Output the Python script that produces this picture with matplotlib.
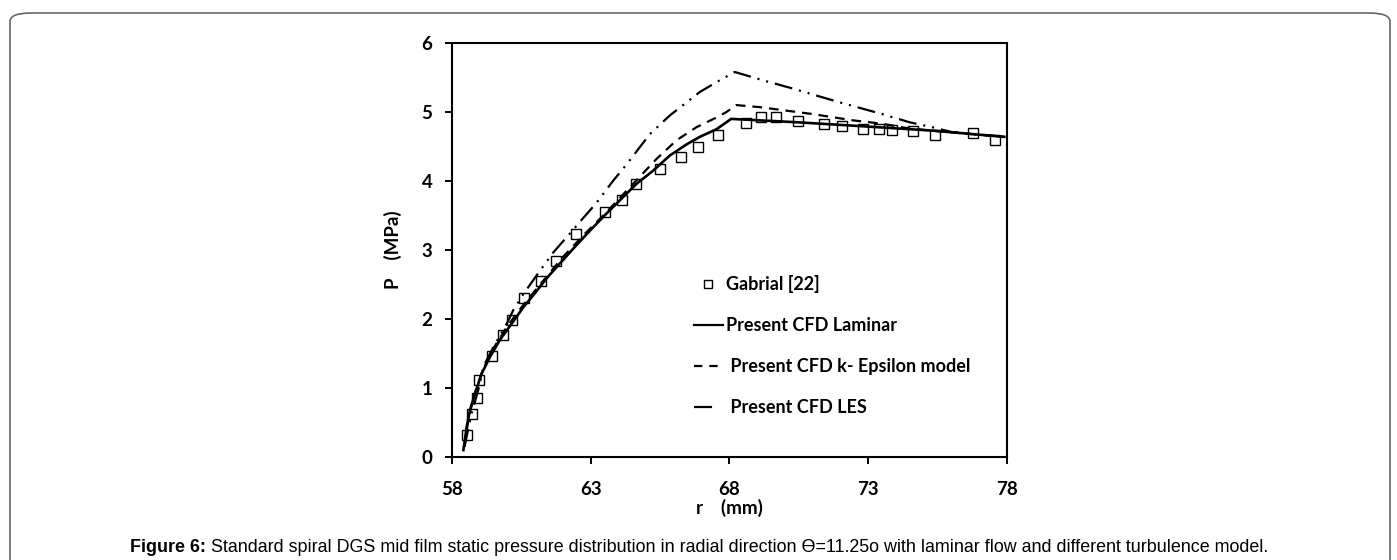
import matplotlib
matplotlib.use("Agg")
import matplotlib.pyplot as plt
from matplotlib.patches import FancyBboxPatch
from matplotlib.lines import Line2D

plt.rcParams['lines.scale_dashes'] = False

# ---- data ----
r_gab = [58.55, 58.73, 58.89, 58.97, 59.45, 59.85, 60.16, 60.59, 61.2, 61.74, 62.46, 63.5, 64.12,
         64.62, 65.49, 66.27, 66.87, 67.57, 68.61, 69.15, 69.66, 70.47, 71.4, 72.04, 72.8, 73.4,
         73.87, 74.6, 75.42, 76.76, 77.58]
P_gab = [0.32, 0.63, 0.85, 1.11, 1.46, 1.77, 1.98, 2.30, 2.55, 2.84, 3.23, 3.55, 3.72,
         3.95, 4.18, 4.35, 4.49, 4.66, 4.84, 4.93, 4.93, 4.87, 4.82, 4.80, 4.75, 4.75,
         4.74, 4.72, 4.67, 4.69, 4.60]

r_lam = [58.41, 58.53, 58.65, 58.83, 59.07, 59.37, 59.73, 60.2, 60.57, 61.0, 61.41, 61.9, 62.37,
         62.97, 63.57, 64.1, 64.65, 65.25, 65.85, 66.45, 66.93, 67.53, 68.06, 70.5, 72.93, 75.32, 77.9]
P_lam = [0.10, 0.44, 0.68, 0.92, 1.21, 1.45, 1.70, 1.96, 2.17, 2.38, 2.59, 2.81, 3.02,
         3.28, 3.53, 3.74, 3.96, 4.15, 4.37, 4.53, 4.64, 4.75, 4.90, 4.85, 4.79, 4.73, 4.64]

r_ke = [58.45, 58.6, 58.8, 59.1, 59.5, 60.0, 60.6, 61.3, 62.0, 62.8, 63.5, 64.2, 64.88, 65.37,
        66.09, 66.81, 67.53, 67.89, 68.25, 69.1, 70.05, 71.0, 72.43, 73.5, 74.5, 75.56, 77.9]
P_ke = [0.15, 0.58, 0.90, 1.25, 1.58, 1.90, 2.22, 2.56, 2.90, 3.24, 3.52, 3.82, 4.11, 4.32,
        4.59, 4.78, 4.92, 5.00, 5.10, 5.07, 5.02, 4.97, 4.88, 4.83, 4.76, 4.72, 4.64]

r_les = [58.45, 58.7, 59.0, 59.13, 59.5, 59.97, 60.21, 60.57, 61.1, 61.64, 62.25, 62.7, 63.2,
         63.8, 64.29, 65.13, 65.85, 66.93, 67.65, 68.19, 69.2, 70.28, 70.95, 71.97, 73.5, 74.5,
         75.3, 76.0, 77.9]
P_les = [0.15, 0.62, 1.05, 1.31, 1.60, 1.93, 2.13, 2.36, 2.66, 2.96, 3.24, 3.45, 3.68,
         4.00, 4.24, 4.68, 4.95, 5.29, 5.46, 5.58, 5.46, 5.34, 5.26, 5.14, 4.97, 4.85,
         4.78, 4.71, 4.64]

x_ticks = [58, 63, 68, 73, 78]
y_ticks = [0, 1, 2, 3, 4, 5, 6]

labels = ["Gabrial [22]", "Present CFD Laminar", " Present CFD k- Epsilon model", " Present CFD LES"]
caption_bold = "Figure 6:"
caption_rest = (" Standard spiral DGS mid film static pressure distribution in radial direction "
                "\u03F4=11.25o with laminar flow and different turbulence model.")

# ---- figure ----
fig = plt.figure(figsize=(13.97, 5.6), dpi=100)
W, H = 1397, 560
ax = fig.add_axes([452 / W, 1 - 457 / H, 555 / W, 414 / H])

les_dash = (0, (13, 5, 1.5, 5, 1.5, 5))
ke_dash = (0, (7, 5))

ax.plot(r_les, P_les, color='black', lw=1.6, linestyle=les_dash)
ax.plot(r_ke, P_ke, color='black', lw=1.6, linestyle=ke_dash)
ax.plot(r_lam, P_lam, color='black', lw=1.9, linestyle='-')
ax.plot(r_gab, P_gab, linestyle='none', marker='s', markersize=6.5,
        markerfacecolor='none', markeredgecolor='black', markeredgewidth=1.0)

ax.set_xlim(58, 78)
ax.set_ylim(0, 6)
ax.set_xticks(x_ticks)
ax.set_yticks(y_ticks)
tick_font = dict(family='Lato', weight='bold', size=13.5)
ax.set_xticklabels([str(v) for v in x_ticks], fontdict=tick_font)
ax.set_yticklabels([str(v) for v in y_ticks], fontdict=tick_font)
ax.tick_params(direction='out', length=5, width=1.4)
ax.tick_params(axis='x', pad=12)
ax.tick_params(axis='y', pad=9)
for s in ax.spines.values():
    s.set_linewidth(1.5)

ax.set_xlabel("r    (mm)", fontdict=dict(family='Lato', weight='bold', size=13.5), labelpad=1)
ax.set_ylabel("P    (MPa)", fontdict=dict(family='Lato', weight='bold', size=13.5), labelpad=14)

handles = [
    Line2D([], [], linestyle='none', marker='s', markersize=5.5, markerfacecolor='none',
           markeredgecolor='black', markeredgewidth=1.0),
    Line2D([], [], color='black', lw=1.6, linestyle='-'),
    Line2D([], [], color='black', lw=1.6, linestyle=(0, (6, 5))),
    Line2D([], [], color='black', lw=1.6, linestyle=(0, (13, 40))),
]
leg = ax.legend(handles, labels, loc='upper left', bbox_to_anchor=(0.423, 0.456),
                frameon=False, handlelength=1.6, handletextpad=0.15, labelspacing=1.32,
                borderaxespad=0.0,
                prop=dict(family='Lato', weight='bold', size=13))

# caption
t1 = fig.text(130 / W, 1 - 548 / H, caption_bold, ha='left', va='center',
              family='Liberation Sans', weight='bold', size=12.9)
fig.canvas.draw()
bb = t1.get_window_extent()
fig.text(bb.x1 / W, 1 - 548 / H, caption_rest, ha='left', va='center',
         family='Liberation Sans', size=12.9)

# rounded frame
frame = FancyBboxPatch((10 / W, -0.1), (1380) / W, 1 - 13 / H + 0.1,
                       boxstyle="round,pad=0,rounding_size=0.015",
                       transform=fig.transFigure, fill=False, edgecolor='#666666', lw=1.2)
fig.patches.append(frame)

fig.savefig("out.png", dpi=100)
